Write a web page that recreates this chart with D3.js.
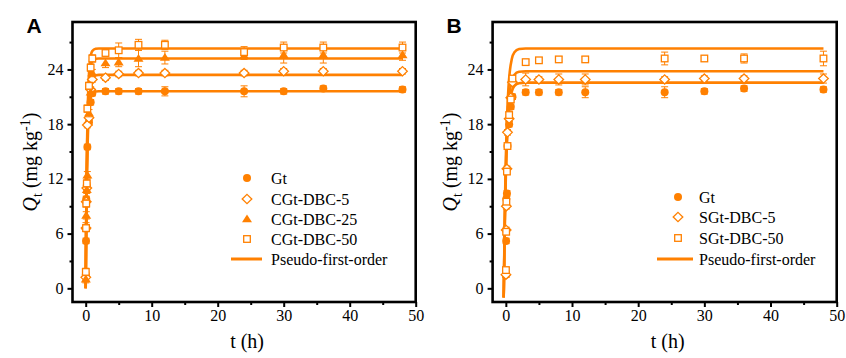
<!DOCTYPE html>
<html>
<head>
<meta charset="utf-8">
<script src="https://cdn.jsdelivr.net/npm/d3@7"></script>
<style>
  body { margin: 0; background: #fff; }
  svg { display: block; font-family: "Liberation Serif", "Times New Roman", serif; }
</style>
</head>
<body>
<svg id="chart" width="846" height="358"></svg>
<script>
// sampling times (h)
var times = [0.017, 0.05, 0.083, 0.167, 0.25, 0.5, 0.75, 1, 3, 5, 8, 12, 24, 30, 36, 48];

// panel A measured Qt (mg kg-1)
var gtA      = [1.5, 5.2, 9.8, 11.3, 15.5, 18.2, 20.4, 21.4, 21.6, 21.6, 21.6, 21.6, 21.6, 21.6, 21.9, 21.8];
var cgt5     = [1.2, 6.6, 9.5, 11.0, 17.9, 18.7, 21.8, 22.9, 23.1, 23.5, 23.6, 23.6, 23.6, 23.8, 23.8, 23.8];
var cgt25    = [1.0, 6.8, 8.0, 10.8, 12.4, 19.2, 21.5, 23.6, 24.7, 24.8, 25.2, 25.3, 25.5, 25.6, 25.6, 25.6];
var cgt50    = [1.8, 6.6, 9.3, 11.5, 19.7, 22.2, 24.2, 25.2, 25.8, 26.1, 26.7, 26.7, 25.9, 26.4, 26.4, 26.4];
var gtAErr   = [0.3, 0.3, 0.3, 0.3, 0.3, 0.3, 0.3, 0.3, 0.3, 0.3, 0.3, 0.5, 0.6, 0.3, 0.3, 0.3];
var cgt5Err  = [0.3, 0.3, 0.3, 0.3, 0.3, 0.3, 0.3, 0.3, 0.3, 0.3, 0.3, 0.3, 0.3, 0.3, 0.3, 0.3];
var cgt25Err = [0.4, 0.4, 0.4, 0.4, 0.4, 0.4, 0.4, 0.4, 0.5, 0.5, 0.9, 0.7, 0.4, 0.9, 0.9, 0.6];
var cgt50Err = [0.4, 0.4, 0.4, 0.4, 0.4, 0.4, 0.4, 0.4, 0.3, 0.8, 0.6, 0.5, 0.6, 0.6, 0.6, 0.6];

// panel B measured Qt (mg kg-1)
var gtB      = [1.5, 5.2, 9.8, 10.4, 15.6, 18.0, 19.9, 21.0, 21.5, 21.5, 21.5, 21.5, 21.5, 21.6, 21.9, 21.8];
var sgt5     = [1.5, 6.4, 9.0, 13.1, 17.1, 18.6, 20.9, 22.6, 22.9, 22.9, 22.9, 22.9, 22.9, 23.0, 23.0, 23.0];
var sgt50    = [2.0, 6.2, 9.5, 12.8, 15.6, 19.0, 20.7, 23.0, 24.8, 25.0, 25.1, 25.1, 25.2, 25.2, 25.2, 25.2];
var gtBErr   = [0.3, 0.3, 0.3, 0.3, 0.3, 0.3, 0.3, 0.3, 0.3, 0.3, 0.3, 0.6, 0.6, 0.3, 0.3, 0.3];
var sgt5Err  = [0.3, 0.3, 0.3, 0.3, 0.3, 0.3, 0.3, 0.3, 0.7, 0.3, 0.6, 0.6, 0.3, 0.3, 0.3, 0.5];
var sgt50Err = [0.3, 0.3, 0.3, 0.3, 0.3, 0.3, 0.3, 0.3, 0.3, 0.3, 0.3, 0.3, 0.7, 0.3, 0.5, 0.8];

// pseudo-first-order fitted curves
var fitTA    = [0, 0.05, 0.1, 0.2, 0.3, 0.4, 0.5, 0.7, 1, 1.5, 2, 48];
var fitGtA   = [0, 4.35, 7.82, 12.81, 16.01, 18.04, 19.33, 20.67, 21.36, 21.57, 21.6, 21.6];
var fitCgt5  = [0, 4.72, 8.47, 13.88, 17.34, 19.54, 20.94, 22.39, 23.14, 23.37, 23.4, 23.4];
var fitCgt25 = [0, 5.08, 9.12, 14.94, 18.67, 21.04, 22.55, 24.12, 24.92, 25.17, 25.2, 25.2];
var fitCgt50 = [0, 5.30, 9.52, 15.60, 19.49, 21.96, 23.54, 25.17, 26.01, 26.27, 26.3, 26.3];

var fitTB    = [-0.33, -0.3, -0.2, -0.1, 0, 0.1, 0.2, 0.4, 0.6, 0.9, 1.3, 2, 3, 48];
var fitGtB   = [-1.0, 0, 5.16, 9.13, 12.22, 14.59, 16.39, 18.90, 20.39, 21.56, 22.19, 22.49, 22.55, 22.55];
var fitSgt5  = [-1.0, 0, 5.45, 9.64, 12.90, 15.40, 17.30, 19.94, 21.52, 22.75, 23.42, 23.74, 23.8, 23.8];
var fitSgt50 = [-1.0, 0, 6.02, 10.65, 14.25, 17.02, 19.12, 22.04, 23.78, 25.14, 25.88, 26.23, 26.3, 26.3];

var xTicks = [0, 10, 20, 30, 40, 50];
var yTicks = [0, 6, 12, 18, 24];

var orange = "#ff8000";
var svg = d3.select("#chart");

// marker shapes
function marker(sel, shape) {
  if (shape == "circle") {
    sel.append("circle").attr("r", 4).attr("fill", orange);
  } else if (shape == "diamond") {
    sel.append("path").attr("d", "M0,-4.6L4.8,0L0,4.6L-4.8,0Z")
      .attr("fill", "#fff").attr("stroke", orange).attr("stroke-width", 1.3);
  } else if (shape == "triangle") {
    sel.append("path").attr("d", "M0,-4.6L5,3.3L-5,3.3Z").attr("fill", orange);
  } else {
    sel.append("rect").attr("x", -3.3).attr("y", -3.3).attr("width", 6.6).attr("height", 6.6)
      .attr("fill", "#fff").attr("stroke", orange).attr("stroke-width", 1.3);
  }
}

function panel(cfg) {
  var x = d3.scaleLinear().domain([-2, 50]).range([cfg.left, cfg.right]);
  var y = d3.scaleLinear().domain([-1.5, 29.2]).range([302, 22]);
  var g = svg.append("g");

  var line = d3.line()
    .x(function(d) { return x(d[0]); })
    .y(function(d) { return y(d[1]); })
    .curve(d3.curveMonotoneX);

  cfg.fits.forEach(function(f) {
    g.append("path")
      .datum(cfg.fitT.map(function(t, i) { return [t, f[i]]; }))
      .attr("d", line)
      .attr("fill", "none")
      .attr("stroke", orange)
      .attr("stroke-width", 2.6);
  });

  cfg.series.forEach(function(s) {
    var pts = times.map(function(t, i) { return {t: t, q: s.values[i], e: s.err[i]}; });
    var eb = g.append("g").attr("stroke", orange).attr("stroke-width", 1);
    pts.forEach(function(p) {
      eb.append("line").attr("x1", x(p.t)).attr("x2", x(p.t))
        .attr("y1", y(p.q - p.e)).attr("y2", y(p.q + p.e));
      [p.q - p.e, p.q + p.e].forEach(function(v) {
        eb.append("line").attr("x1", x(p.t) - 3.5).attr("x2", x(p.t) + 3.5)
          .attr("y1", y(v)).attr("y2", y(v));
      });
    });
    g.selectAll(null)
      .data(pts)
      .enter().append("g")
        .attr("transform", function(d) { return "translate(" + x(d.t) + "," + y(d.q) + ")"; })
        .each(function() { marker(d3.select(this), s.shape); });
  });

  // axes
  var xAxis = g.append("g")
    .attr("transform", "translate(0,302)")
    .call(d3.axisBottom(x).tickValues(xTicks).tickSize(5).tickPadding(3));
  g.append("g")
    .attr("transform", "translate(0,302)")
    .call(d3.axisBottom(x).tickValues([5, 15, 25, 35, 45]).tickSize(3).tickFormat(""));
  var yAxis = g.append("g")
    .attr("transform", "translate(" + cfg.left + ",0)")
    .call(d3.axisLeft(y).tickValues(yTicks).tickSize(5).tickPadding(4));
  g.append("g")
    .attr("transform", "translate(" + cfg.left + ",0)")
    .call(d3.axisLeft(y).tickValues([3, 9, 15, 21, 27]).tickSize(3).tickFormat(""));
  g.selectAll(".domain").remove();
  g.selectAll(".tick line").attr("stroke", "#000").attr("stroke-width", 2);
  g.selectAll(".tick text").attr("fill", "#000").style("font-size", "16px")
    .style("font-family", "Liberation Serif, serif");

  g.append("rect")
    .attr("x", cfg.left).attr("y", 22)
    .attr("width", cfg.right - cfg.left).attr("height", 280)
    .attr("fill", "none").attr("stroke", "#000").attr("stroke-width", 2.6);

  // titles
  g.append("text")
    .attr("x", (cfg.left + cfg.right) / 2 + 3).attr("y", 348)
    .attr("text-anchor", "middle").style("font-size", "20px")
    .text("t (h)");

  var yt = g.append("text")
    .attr("transform", "translate(" + (cfg.left - 36) + ",162) rotate(-90)")
    .attr("text-anchor", "middle").style("font-size", "20px");
  yt.append("tspan").style("font-style", "italic").text("Q");
  yt.append("tspan").attr("dy", 5).style("font-size", "14px").text("t");
  yt.append("tspan").attr("dy", -5).text(" (mg kg");
  yt.append("tspan").attr("dy", -7).style("font-size", "14px").text("-1");
  yt.append("tspan").attr("dy", 7).text(")");

  g.append("text")
    .attr("x", cfg.left - 46).attr("y", 33)
    .style("font-family", "Liberation Sans, Arial, sans-serif")
    .style("font-weight", "bold").style("font-size", "21px")
    .text(cfg.label);

  // legend
  var lg = g.append("g");
  cfg.series.forEach(function(s, i) {
    var row = lg.append("g").attr("transform", "translate(0," + cfg.legY[i] + ")");
    marker(row.append("g").attr("transform", "translate(" + cfg.legMarkX + ",0)"), s.shape);
    row.append("text").attr("x", cfg.legTextX).attr("dy", "0.35em")
      .style("font-size", "16px").text(s.name);
  });
  var fr = lg.append("g").attr("transform", "translate(0," + cfg.legY[cfg.series.length] + ")");
  fr.append("line").attr("x1", cfg.legLine[0]).attr("x2", cfg.legLine[1])
    .attr("stroke", orange).attr("stroke-width", 3);
  fr.append("text").attr("x", cfg.legTextX).attr("dy", "0.35em")
    .style("font-size", "16px").text("Pseudo-first-order");
}

panel({
  label: "A", left: 72.5, right: 415.7,
  fitT: fitTA, fits: [fitGtA, fitCgt5, fitCgt25, fitCgt50],
  series: [
    {name: "Gt", shape: "circle", values: gtA, err: gtAErr},
    {name: "CGt-DBC-5", shape: "diamond", values: cgt5, err: cgt5Err},
    {name: "CGt-DBC-25", shape: "triangle", values: cgt25, err: cgt25Err},
    {name: "CGt-DBC-50", shape: "square", values: cgt50, err: cgt50Err}
  ],
  legY: [178, 199, 219, 239, 259], legMarkX: 247, legTextX: 271, legLine: [231, 262]
});

panel({
  label: "B", left: 492.6, right: 836.7,
  fitT: fitTB, fits: [fitGtB, fitSgt5, fitSgt50],
  series: [
    {name: "Gt", shape: "circle", values: gtB, err: gtBErr},
    {name: "SGt-DBC-5", shape: "diamond", values: sgt5, err: sgt5Err},
    {name: "SGt-DBC-50", shape: "square", values: sgt50, err: sgt50Err}
  ],
  legY: [197, 217, 238, 259], legMarkX: 678, legTextX: 699, legLine: [657, 693]
});
</script>
</body>
</html>
